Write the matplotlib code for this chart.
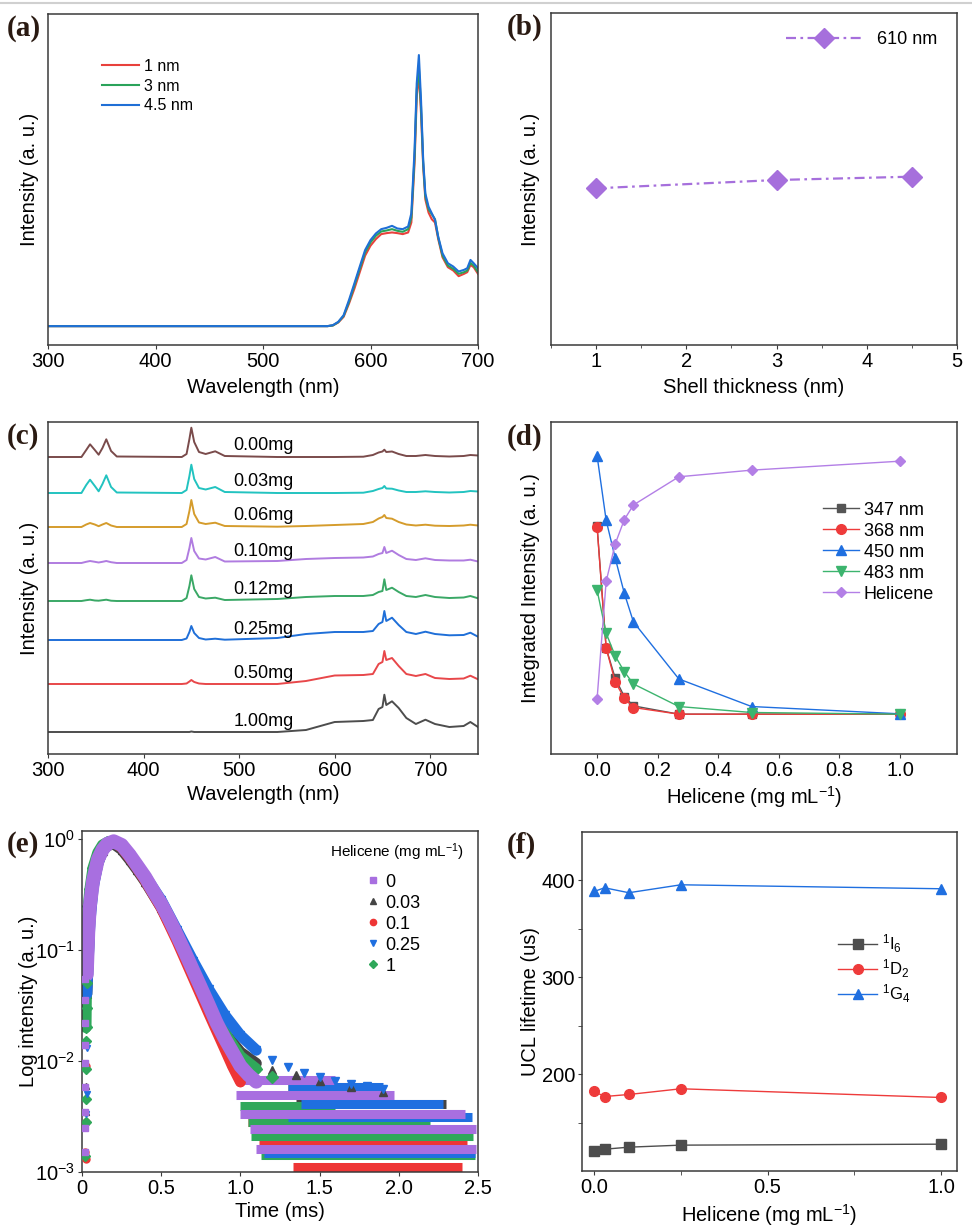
import matplotlib
matplotlib.use('Agg')
import matplotlib.pyplot as plt
from matplotlib.lines import Line2D
from matplotlib.ticker import FixedLocator, NullLocator

plt.rcParams['font.family'] = ['Liberation Sans', 'DejaVu Sans']
plt.rcParams['mathtext.fontset'] = 'custom'
plt.rcParams['mathtext.rm'] = 'Liberation Sans'
plt.rcParams['mathtext.it'] = 'Liberation Sans:italic'
plt.rcParams['mathtext.bf'] = 'Liberation Sans:bold'
plt.rcParams['axes.linewidth'] = 1.1
plt.rcParams['axes.edgecolor'] = '#3a3a3a'
plt.rcParams['xtick.color'] = '#3a3a3a'
plt.rcParams['ytick.color'] = '#3a3a3a'
plt.rcParams['xtick.labelcolor'] = 'black'
plt.rcParams['ytick.labelcolor'] = 'black'
plt.rcParams['xtick.major.size'] = 3
plt.rcParams['ytick.major.size'] = 3
plt.rcParams['xtick.minor.size'] = 2
plt.rcParams['ytick.minor.size'] = 2
plt.rcParams['xtick.major.pad'] = 2
plt.rcParams['ytick.major.pad'] = 2
plt.rcParams['xtick.labelsize'] = 14.5
plt.rcParams['ytick.labelsize'] = 14.5
plt.rcParams['axes.labelsize'] = 14.5

# ---------- (a) spectra vs shell thickness ----------
wl_a = [300, 400, 500, 560, 565, 570, 575, 580, 585, 590, 595, 600, 605, 610, 615,
        620, 625, 630, 635, 638, 641, 643, 645, 647, 649, 651, 654, 657, 660, 663,
        667, 672, 677, 682, 687, 690, 693, 696, 700]
a_1nm = [5.7, 5.7, 5.7, 5.7, 5.9, 6.8, 8.5, 12.5, 17, 22, 27, 30, 32, 33.5, 33.8,
         34.0, 33.8, 33.5, 34.0, 37, 55, 75, 82, 70, 54, 44, 40, 38, 37, 32,
         26.5, 23.5, 22.5, 20.8, 21.5, 22, 24.2, 23.5, 21.5]
a_3nm = [5.7, 5.7, 5.7, 5.7, 5.9, 6.9, 8.8, 13, 18, 23, 28, 31, 33, 34.3, 34.6,
         35.0, 34.5, 34.2, 35, 38.5, 57, 77, 84, 72, 55, 45, 41, 39.5, 38, 32.5,
         27, 24, 23, 21.5, 22, 22.5, 24.8, 24, 22]
a_45nm = [5.7, 5.7, 5.7, 5.7, 6.0, 7.0, 9.0, 13.6, 18.6, 23.7, 28.7, 31.7, 33.7, 35.0, 35.4,
          36.0, 35.2, 35.0, 35.8, 39.8, 59, 79, 87.6, 74, 56, 45.8, 41.8, 39.8, 37.8, 32.7,
          27.7, 24.7, 23.7, 22.2, 22.7, 23.2, 25.7, 24.7, 23.2]
a_labels = ['1 nm', '3 nm', '4.5 nm']

# ---------- (b) ----------
shell = [1, 3, 4.5]
int_610 = [47.2, 49.7, 50.7]

# ---------- (c) stacked spectra ----------
wl_c = [300, 335, 340, 344, 349, 353, 357, 361, 366, 372,
        440, 445, 448, 450, 453, 458, 465, 475, 485,
        540, 570, 600, 630, 640, 646, 650, 652, 654, 660,
        667, 675, 685, 695, 705, 720, 735, 742, 750]
sp_000 = [0, 0, 7, 12.7, 7, 2.3, 9, 17.7, 6, 0.5,
          0, 3, 18, 29.3, 15, 5, 3, 5.7, 1,
          0, 0, 0, 0.3, 2, 4.5, 5.5, 7.3, 5, 5.5,
          3, 1, 1, 2, 1, 0.5, 1, 2, 1.5]
sp_003 = [0, 0, 8, 13.3, 7, 1.7, 9, 17.7, 6, 0.5,
          0, 3, 17, 28.3, 14, 5, 3.5, 6, 1,
          0, 0, 0, 0.3, 2, 4, 5, 7, 4.5, 4.3,
          2.5, 1, 1, 1.7, 1, 0.5, 1, 2, 1.5]
sp_006 = [0, 0, 2.5, 4, 2.5, 0.8, 2.5, 4, 1.5, 0,
          0, 3, 16, 27, 13, 4.5, 3, 4.3, 1,
          0.3, 1, 2, 3, 5, 8.5, 10, 12, 9, 8.3,
          5, 2.5, 1.5, 2.3, 1.3, 1, 1.5, 2.3, 1.5]
sp_010 = [0, 0, 1.2, 2, 1.2, 0.5, 1.2, 2, 0.8, 0,
          0, 3, 15, 25, 12, 4.5, 3.5, 6, 1.5,
          2, 4, 5, 5.5, 6.5, 9, 10, 16, 10, 12.3,
          8, 4, 3, 4.7, 3, 2.5, 2.5, 3.3, 1.5]
sp_012 = [0, 0, 0.8, 1.3, 0.5, 0.3, 0.8, 1.3, 0.3, 0,
          0, 3, 15, 25.7, 12, 4, 2.5, 3.3, 1,
          2, 4, 5, 5, 6, 9, 10, 21.7, 11, 13.3,
          9, 5, 4, 6, 4, 3, 3.5, 5, 2.7]
sp_025 = [0, 0, 0, 0, 0, 0, 0, 0, 0, 0,
          0, 1.5, 8, 14, 7, 2, 0.5, 1.3, 0.3,
          2, 6, 8, 8, 9, 16, 18, 29, 19, 22.3,
          15, 8, 6, 8.3, 6, 4.7, 5, 7.3, 3.3]
sp_050 = [0, 0, 0, 0, 0, 0, 0, 0, 0, 0,
          0, 0.5, 2.5, 4, 2, 0.5, 0, 0, 0,
          0, 3, 8.5, 9, 10, 20, 22, 33, 24, 26,
          18, 10, 8, 10, 6, 5, 5.5, 8.3, 4.7]
sp_100 = [0, 0, 0, 0, 0, 0, 0, 0, 0, 0,
          0, 0, 0, 0.5, 0, 0, 0, 0, 0,
          0, 2, 10, 11, 12, 23, 25, 37.3, 27, 30.7,
          24, 14, 8, 12.3, 8, 5, 6, 10, 5]
c_labels = ['0.00mg', '0.03mg', '0.06mg', '0.10mg', '0.12mg', '0.25mg', '0.50mg', '1.00mg']
c_offsets = [297, 261, 227, 191, 153, 114, 70, 22]

# ---------- (d) integrated intensity ----------
hel_d = [0, 0.03, 0.06, 0.09, 0.12, 0.27, 0.51, 1.0]
d_347 = [68.8, 31.9, 22.8, 17.3, 14.5, 12.0, 12.0, 12.0]
d_368 = [68.5, 31.9, 21.7, 16.8, 14.0, 12.0, 12.0, 12.0]
d_450 = [89.9, 70.4, 59.0, 48.4, 39.8, 22.6, 14.3, 12.1]
d_483 = [49.4, 36.4, 29.5, 24.8, 21.1, 14.3, 12.5, 12.0]
d_hel = [16.5, 52.0, 63.3, 70.6, 75.0, 83.5, 85.5, 88.2]

# ---------- (e) decay curves ----------
e_labels = ['0', '0.03', '0.1', '0.25', '1']
t_e0 = [0.03, 0.04, 0.05, 0.07, 0.1, 0.13, 0.16, 0.2, 0.25, 0.3, 0.35, 0.4, 0.45, 0.5,
        0.55, 0.6, 0.65, 0.7, 0.75, 0.8, 0.85, 0.9, 0.95, 1.0, 1.05, 1.1]
y_e0 = [0.06, 0.15, 0.25, 0.42, 0.65, 0.8, 0.9, 0.95, 0.88, 0.72, 0.57, 0.45, 0.34, 0.26,
        0.19, 0.135, 0.095, 0.066, 0.046, 0.032, 0.022, 0.016, 0.012, 0.009, 0.0075, 0.0065]
t_e003 = [0.03, 0.05, 0.07, 0.1, 0.13, 0.16, 0.2, 0.25, 0.3, 0.35, 0.4, 0.5, 0.6, 0.7,
          0.8, 0.9, 1.0, 1.1, 1.2, 1.35, 1.5, 1.7, 1.9]
y_e003 = [0.04, 0.2, 0.38, 0.6, 0.78, 0.87, 0.9, 0.8, 0.65, 0.52, 0.41, 0.24, 0.125, 0.064,
          0.033, 0.018, 0.012, 0.0095, 0.0083, 0.0074, 0.0066, 0.0058, 0.0052]
t_e01 = [0.03, 0.05, 0.07, 0.1, 0.13, 0.16, 0.2, 0.25, 0.3, 0.35, 0.4, 0.5, 0.6, 0.7,
         0.8, 0.9, 0.95, 1.0]
y_e01 = [0.05, 0.22, 0.4, 0.63, 0.8, 0.9, 0.93, 0.84, 0.68, 0.54, 0.42, 0.24, 0.12, 0.057,
         0.027, 0.013, 0.009, 0.0065]
t_e025 = [0.03, 0.05, 0.07, 0.1, 0.13, 0.16, 0.2, 0.25, 0.3, 0.35, 0.4, 0.5, 0.6, 0.7,
          0.8, 0.9, 1.0, 1.1, 1.2, 1.3, 1.4, 1.5, 1.6, 1.7, 1.8, 1.9]
y_e025 = [0.04, 0.18, 0.36, 0.6, 0.78, 0.88, 0.92, 0.86, 0.72, 0.58, 0.46, 0.28, 0.15, 0.08,
          0.044, 0.026, 0.017, 0.0125, 0.0102, 0.0088, 0.0078, 0.0071, 0.0066, 0.0062, 0.0059, 0.0056]
t_e1 = [0.025, 0.03, 0.04, 0.05, 0.07, 0.1, 0.13, 0.16, 0.2, 0.25, 0.3, 0.35, 0.4, 0.5,
        0.6, 0.7, 0.8, 0.9, 1.0, 1.1, 1.2]
y_e1 = [0.02, 0.1, 0.25, 0.35, 0.55, 0.75, 0.88, 0.93, 0.94, 0.86, 0.71, 0.56, 0.44, 0.26,
        0.135, 0.068, 0.034, 0.018, 0.011, 0.0085, 0.0072]
# background count levels: (level, t_start, t_end)
floor_e0 = [(1.61e-3, 1.10, 2.49), (2.45e-3, 1.06, 2.49), (3.3e-3, 1.0, 2.42),
            (4.9e-3, 0.97, 1.97), (6.7e-3, 0.97, 1.6)]
floor_e003 = [(1.45e-3, 1.2, 2.45), (3.3e-3, 1.45, 2.4), (4.1e-3, 1.35, 2.3), (5.8e-3, 1.3, 1.8)]
floor_e01 = [(1.11e-3, 1.33, 2.40), (1.8e-3, 1.12, 2.43), (2.2e-3, 1.1, 1.9), (2.8e-3, 1.05, 2.1)]
floor_e025 = [(1.48e-3, 1.15, 2.48), (3.1e-3, 1.3, 2.46), (4.1e-3, 1.38, 2.28), (5.8e-3, 1.3, 1.9)]
floor_e1 = [(1.41e-3, 1.13, 2.48), (2.1e-3, 1.07, 2.47), (2.8e-3, 1.05, 2.2), (3.9e-3, 1.0, 1.6)]
# early scattered points near t = 0
early_e0 = [(0.02, 0.055), (0.022, 0.035), (0.02, 0.022), (0.022, 0.014), (0.02, 0.0095),
            (0.022, 0.0058), (0.02, 0.0035), (0.022, 0.0025), (0.02, 0.0015)]
early_e003 = [(0.028, 0.006), (0.025, 0.0035), (0.023, 0.0014)]
early_e01 = [(0.027, 0.009), (0.025, 0.0028), (0.022, 0.0015), (0.025, 0.0013)]
early_e025 = [(0.03, 0.04), (0.03, 0.013), (0.03, 0.005), (0.028, 0.0033)]
early_e1 = [(0.03, 0.05), (0.03, 0.03), (0.028, 0.015), (0.027, 0.0085), (0.025, 0.0045),
            (0.025, 0.0028), (0.022, 0.0014)]
e_xticklabels = ['0', '0.5', '1.0', '1.5', '2.0', '2.5']

# ---------- (f) lifetimes ----------
hel_f = [0, 0.03, 0.1, 0.25, 1.0]
f_I6 = [120.8, 122.5, 124.6, 126.7, 127.7]
f_D2 = [182.1, 176.9, 179.0, 184.9, 175.9]
f_G4 = [388.6, 392.4, 387.3, 395.5, 391.4]

W, H = 972, 1229
fig = plt.figure(figsize=(W / 100, H / 100), dpi=100)


def add_ax(l, t, r, b):
    return fig.add_axes([l / W, 1 - b / H, (r - l) / W, (b - t) / H])


def panel(x, y, s):
    fig.text(x / W, 1 - y / H, s, ha='left', va='center', fontsize=21,
             fontweight='bold', family='Liberation Serif', color='#2a1a12')


fig.add_artist(Line2D([0, 1], [1 - 3 / H, 1 - 3 / H], color='#d0d0d0', lw=1.5,
                      transform=fig.transFigure))

# (a)
ax = add_ax(48, 14, 478, 345)
for yy, c, lab in zip([a_1nm, a_3nm, a_45nm], ['#e8413c', '#2aa35a', '#1f6fd6'], a_labels):
    ax.plot(wl_a, yy, color=c, lw=1.5, label=lab)
ax.set_xlim(300, 700)
ax.set_ylim(0, 100)
ax.set_xticks([300, 400, 500, 600, 700])
ax.set_yticks([])
ax.set_xlabel('Wavelength (nm)')
ax.set_ylabel('Intensity (a. u.)')
ax.xaxis.set_label_coords(0.5, -0.1)
ax.yaxis.set_label_coords(-0.022, 0.5)
ax.legend(loc='center left', bbox_to_anchor=(0.1256, 0.782), frameon=False, fontsize=11.5,
          borderpad=0, borderaxespad=0, handlelength=2.3, handletextpad=0.35, labelspacing=0.3)
panel(7, 28, '(a)')

# (b)
ax = add_ax(551, 13, 957, 345)
ax.plot(shell, int_610, color='#a66fdc', lw=1.6, dashes=(4.5, 2, 1.2, 2), marker='D',
        ms=10, label='610 nm')
ax.set_xlim(0.5, 5)
ax.set_ylim(0, 100)
ax.set_xticks([1, 2, 3, 4, 5])
ax.xaxis.set_minor_locator(FixedLocator([0.5, 1.5, 2.5, 3.5, 4.5]))
ax.set_yticks([])
ax.set_xlabel('Shell thickness (nm)')
ax.set_ylabel('Intensity (a. u.)')
ax.xaxis.set_label_coords(0.5, -0.1)
ax.yaxis.set_label_coords(-0.027, 0.5)
ax.legend(loc='center left', bbox_to_anchor=(0.579, 0.919), frameon=False, fontsize=13,
          borderpad=0, borderaxespad=0, handlelength=4.25, handletextpad=0.77)
panel(507, 27, '(b)')

# (c)
ax = add_ax(48, 422, 478, 754)
c_colors = ['#7a4b4b', '#22c3c0', '#d59c2c', '#b07ce0', '#3aa866', '#1f6fd8', '#e8474a', '#4d4d4d']
for sp, off, c, lab in zip([sp_000, sp_003, sp_006, sp_010, sp_012, sp_025, sp_050, sp_100],
                           c_offsets, c_colors, c_labels):
    ax.plot(wl_c, [v + off for v in sp], color=c, lw=1.4)
    ax.text(494, off + 11, lab, fontsize=13, va='center', ha='left')
ax.set_xlim(300, 750)
ax.set_ylim(0, 332)
ax.set_xticks([300, 400, 500, 600, 700])
ax.set_yticks([])
ax.set_xlabel('Wavelength (nm)')
ax.set_ylabel('Intensity (a. u.)')
ax.xaxis.set_label_coords(0.5, -0.093)
ax.yaxis.set_label_coords(-0.022, 0.5)
panel(7, 437, '(c)')

# (d)
ax = add_ax(551, 422, 957, 754)
ax.plot(hel_d, d_347, color='#555555', marker='s', ms=6, lw=1, label='347 nm')
ax.plot(hel_d, d_368, color='#ee3b3b', marker='o', ms=7, lw=1, label='368 nm')
ax.plot(hel_d, d_450, color='#1f6fe0', marker='^', ms=7, lw=1, label='450 nm')
ax.plot(hel_d, d_483, color='#3cb46e', marker='v', ms=7, lw=1, label='483 nm')
ax.plot(hel_d, d_hel, color='#b37fe6', marker='D', ms=5.5, lw=1, label='Helicene')
ax.set_xlim(-0.152, 1.188)
ax.set_ylim(0, 100)
ax.set_xticks([0, 0.2, 0.4, 0.6, 0.8, 1.0])
ax.set_yticks([])
ax.set_xlabel(r'Helicene (mg mL$^{-1}$)')
ax.set_ylabel('Integrated Intensity (a. u.)')
ax.xaxis.set_label_coords(0.5, -0.09)
ax.yaxis.set_label_coords(-0.027, 0.5)
ax.legend(loc='center left', bbox_to_anchor=(0.67, 0.608), frameon=False, fontsize=13,
          borderpad=0, borderaxespad=0, handlelength=2.0, handletextpad=0.26, labelspacing=0.22)
panel(507, 437, '(d)')

# (e)
ax = add_ax(82, 831, 478, 1172)
e_styles = [('#a86fe0', 's'), ('#444444', '^'), ('#ee3535', 'o'), ('#1f6fe0', 'v'), ('#2fa85a', 'D')]
floors = [floor_e0, floor_e003, floor_e01, floor_e025, floor_e1]
decays = [(t_e0, y_e0), (t_e003, y_e003), (t_e01, y_e01), (t_e025, y_e025), (t_e1, y_e1)]
earlies = [early_e0, early_e003, early_e01, early_e025, early_e1]
order = [1, 2, 4, 3, 0]
for i in order:
    c, m = e_styles[i]
    ax.hlines([f[0] for f in floors[i]], [f[1] for f in floors[i]], [f[2] for f in floors[i]],
              colors=c, lw=6.5, zorder=1)
for i in order:
    c, m = e_styles[i]
    t, y = decays[i]
    body = [k for k in range(len(t)) if t[k] <= 1.15]
    tail = [k for k in range(len(t)) if t[k] > 1.15]
    ax.plot([t[k] for k in body], [y[k] for k in body], color=c, lw=10 if i == 0 else 8,
            marker=m, ms=6, solid_capstyle='round', zorder=2)
    ax.plot([t[k] for k in tail], [y[k] for k in tail], ls='none', marker=m, ms=6,
            color=c, zorder=2)
    ax.plot([p[0] for p in earlies[i]], [p[1] for p in earlies[i]], ls='none', marker=m, ms=5,
            color=c, zorder=3)
ax.set_yscale('log')
ax.set_xlim(0, 2.5)
ax.set_ylim(1e-3, 1.175)
ax.set_xticks([0, 0.5, 1.0, 1.5, 2.0, 2.5])
ax.set_xticklabels(e_xticklabels)
ax.set_yticks([1e-3, 1e-2, 1e-1, 1])
ax.yaxis.set_minor_locator(NullLocator())
ax.set_xlabel('Time (ms)')
ax.set_ylabel('Log intensity (a. u.)')
ax.xaxis.set_label_coords(0.5, -0.088)
ax.yaxis.set_label_coords(-0.112, 0.5)
handles = [Line2D([], [], ls='none', marker=m, color=c, ms=4.5) for c, m in e_styles]
ax.legend(handles, e_labels, loc='center left', bbox_to_anchor=(0.711, 0.727), frameon=False,
          fontsize=13, borderpad=0, borderaxespad=0, handlelength=1.0, handletextpad=0.2,
          labelspacing=0.22)
ax.text(0.626, 0.938, r'Helicene (mg mL$^{-1}$)', transform=ax.transAxes, fontsize=11,
        ha='left', va='center')
panel(7, 845, '(e)')

# (f)
ax = add_ax(582, 832, 957, 1171)
ax.plot(hel_f, f_I6, color='#4d4d4d', marker='s', ms=6.5, lw=1, label=r'$^{1}$I$_{6}$')
ax.plot(hel_f, f_D2, color='#ee3b3b', marker='o', ms=7, lw=1, label=r'$^{1}$D$_{2}$')
ax.plot(hel_f, f_G4, color='#1f6fe0', marker='^', ms=7.5, lw=1, label=r'$^{1}$G$_{4}$')
ax.set_xlim(-0.035, 1.046)
ax.set_ylim(100, 450)
ax.set_xticks([0, 0.5, 1.0])
ax.set_xticklabels(['0.0', '0.5', '1.0'])
ax.xaxis.set_minor_locator(FixedLocator([0.25, 0.75]))
ax.set_yticks([200, 300, 400])
ax.yaxis.set_minor_locator(FixedLocator([150, 250, 350]))
ax.tick_params(which='minor', length=3)
ax.set_xlabel(r'Helicene (mg mL$^{-1}$)')
ax.set_ylabel('UCL lifetime (us)')
ax.xaxis.set_label_coords(0.5, -0.091)
ax.yaxis.set_label_coords(-0.113, 0.5)
ax.legend(loc='center left', bbox_to_anchor=(0.683, 0.596), frameon=False, fontsize=12,
          borderpad=0, borderaxespad=0, handlelength=2.33, handletextpad=0.3, labelspacing=0.15)
panel(507, 845, '(f)')

fig.savefig('out.png', dpi=100)
